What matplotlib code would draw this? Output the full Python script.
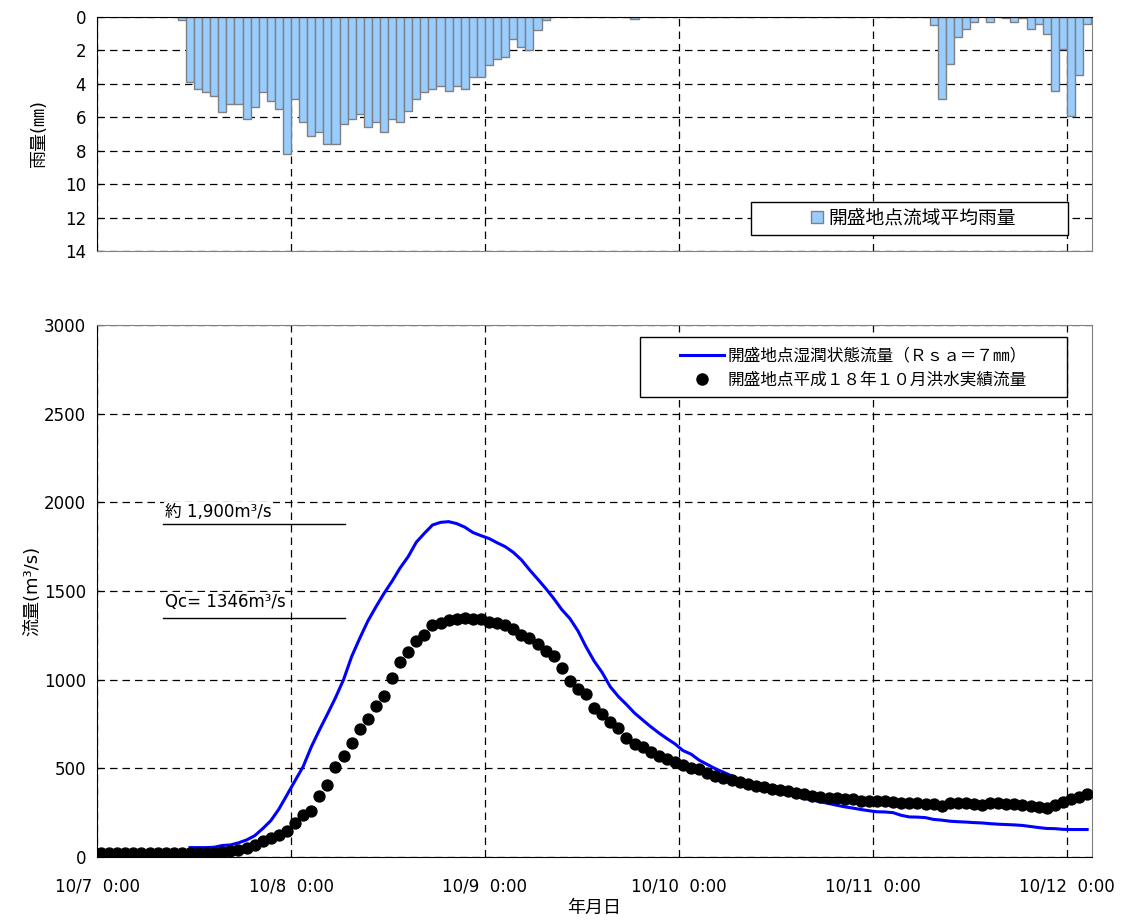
import numpy as np
import matplotlib
matplotlib.use("Agg")
import matplotlib.pyplot as plt
from matplotlib.patches import Rectangle, Patch
from matplotlib.lines import Line2D

# latin/digits in DejaVu, japanese falls back to Noto CJK
plt.rcParams['font.family'] = ['DejaVu Sans', 'Noto Sans CJK JP']

# hourly data, index 0 = 10/7 0:00
rain_hours = [10, 11, 12, 13, 14, 15, 16, 17, 18, 19, 20, 21, 22, 23, 24, 25, 26, 27, 28, 29,
              30, 31, 32, 33, 34, 35, 36, 37, 38, 39, 40, 41, 42, 43, 44, 45, 46, 47, 48, 49,
              50, 51, 52, 53, 54, 55, 66, 103, 104, 105, 106, 107, 108, 110, 112, 113, 114,
              115, 116, 117, 118, 119, 120, 121, 122]
rain_mm = [0.2, 3.9, 4.3, 4.5, 4.7, 5.7, 5.2, 5.2, 6.1, 5.4, 4.5, 5.0, 5.5, 8.2, 4.9, 6.3,
           7.1, 6.9, 7.6, 7.6, 6.4, 6.1, 5.8, 6.6, 6.3, 6.9, 6.1, 6.3, 5.6, 4.9, 4.5, 4.3,
           4.1, 4.4, 4.1, 4.3, 3.6, 3.6, 2.9, 2.5, 2.4, 1.3, 1.8, 2.0, 0.8, 0.2, 0.1, 0.5,
           4.9, 2.8, 1.2, 0.7, 0.3, 0.3, 0.05, 0.3, 0.05, 0.7, 0.4, 1.0, 4.4, 1.9, 5.9, 3.5, 0.4]

obs_flow = [20, 20, 20, 20, 20, 20, 20, 20, 20, 20,
            20, 20, 20, 22, 24, 28, 35, 42, 52, 70,
            90, 106, 124, 147, 190, 238, 261, 346, 406, 506,
            570, 645, 720, 778, 853, 910, 1010, 1100, 1158, 1218,
            1252, 1308, 1318, 1337, 1340, 1346, 1340, 1343, 1327, 1318,
            1308, 1284, 1252, 1237, 1201, 1163, 1134, 1066, 994, 946,
            917, 839, 805, 760, 729, 669, 637, 618, 594, 570,
            553, 538, 517, 504, 495, 472, 457, 447, 434, 421,
            412, 400, 393, 385, 378, 370, 363, 354, 346, 340,
            334, 330, 327, 325, 317, 314, 314, 315, 308, 306,
            302, 302, 300, 299, 289, 302, 302, 302, 297, 293,
            302, 302, 297, 299, 293, 288, 280, 274, 293, 311,
            325, 338, 355]

calc_start = 11
calc_flow = [53, 53, 53, 55, 65, 68, 80, 96, 120,
             160, 205, 270, 350, 430, 510, 620, 715, 805, 898,
             1000, 1130, 1233, 1330, 1410, 1486, 1555, 1630, 1694, 1775,
             1825, 1872, 1887, 1891, 1880, 1860, 1830, 1812, 1796, 1772,
             1750, 1718, 1676, 1620, 1568, 1515, 1458, 1395, 1345, 1275,
             1185, 1105, 1040, 960, 905, 860, 812, 773, 735, 700,
             668, 638, 600, 580, 546, 522, 498, 478, 458, 436,
             420, 402, 390, 375, 363, 352, 340, 330, 322, 311,
             302, 292, 283, 276, 268, 261, 255, 254, 250, 235,
             226, 225, 222, 212, 208, 202, 199, 197, 194, 192,
             188, 185, 183, 181, 178, 172, 166, 161, 160, 156,
             155, 155, 155]

day_ticks = [0, 24, 48, 72, 96, 120]
day_labels = ['10/7  0:00', '10/8  0:00', '10/9  0:00', '10/10  0:00', '10/11  0:00', '10/12  0:00']

x_max = 123.1
grid_kw = dict(color='black', linestyle=(0, (6, 4)), linewidth=0.9)

fig = plt.figure(figsize=(11.23, 9.24), dpi=100)
ax1 = fig.add_axes([0.0864, 0.7284, 0.886, 0.2532])
ax2 = fig.add_axes([0.0864, 0.0725, 0.886, 0.5758])

# ---- rainfall ----
ax1.bar(np.array(rain_hours) + 0.5, rain_mm, width=1.0, color='#99CCFF',
        edgecolor='#808080', linewidth=1.0, zorder=2)
ax1.set_xlim(0, x_max)
ax1.set_ylim(14, 0)
ax1.set_yticks(range(0, 15, 2))
ax1.set_xticks(day_ticks)
ax1.set_xticklabels([])
ax1.set_axisbelow(True)
ax1.grid(True, **grid_kw)
ax1.tick_params(axis='y', direction='in', length=4, labelsize=12, pad=8)
ax1.tick_params(axis='x', length=0)
ax1.set_ylabel('雨量(㎜)', fontsize=13, labelpad=12)
for s in ['left', 'top']:
    ax1.spines[s].set_color('black')
for s in ['right', 'bottom']:
    ax1.spines[s].set_color('#808080')

ax1.add_patch(Rectangle((0.657, 0.068), 0.319, 0.141, transform=ax1.transAxes,
                        facecolor='white', edgecolor='black', linewidth=1.0, zorder=4))
leg1 = ax1.legend(handles=[Patch(facecolor='#99CCFF', edgecolor='#808080', label='開盛地点流域平均雨量')],
                  loc='center left', bbox_to_anchor=(0.708, 0.141), frameon=False,
                  handlelength=0.65, handleheight=0.65, handletextpad=0.3, borderpad=0,
                  fontsize=13.5)
leg1.set_zorder(5)

# ---- discharge ----
calc_x = np.arange(calc_start, calc_start + len(calc_flow)) + 0.5
obs_x = np.arange(len(obs_flow)) + 0.5
ax2.plot(calc_x, calc_flow, color='#0000FF', linewidth=2.2, zorder=3)
ax2.scatter(obs_x, obs_flow, s=62, color='black', zorder=4)
ax2.set_xlim(0, x_max)
ax2.set_ylim(0, 3000)
ax2.set_yticks(range(0, 3001, 500))
ax2.set_xticks(day_ticks)
ax2.set_xticklabels(day_labels)
ax2.set_axisbelow(True)
ax2.grid(True, **grid_kw)
ax2.tick_params(axis='y', direction='in', length=4, labelsize=12, pad=8)
ax2.tick_params(axis='x', length=0, labelsize=12, pad=15)
ax2.set_ylabel('流量(m³/s)', fontsize=13, labelpad=2)
ax2.set_xlabel('年月日', fontsize=13, labelpad=2)
for s in ['left', 'bottom']:
    ax2.spines[s].set_color('black')
for s in ['right', 'top']:
    ax2.spines[s].set_color('#808080')

# annotations
ax2.plot([8.2, 30.7], [1880, 1880], color='black', linewidth=1.0, zorder=3)
ax2.plot([8.2, 30.7], [1346, 1346], color='black', linewidth=1.0, zorder=3)
ax2.text(8.4, 1915, '約 1,900m³/s', fontsize=12, va='baseline', zorder=3,
         bbox=dict(facecolor='white', edgecolor='none', pad=1))
ax2.text(8.4, 1410, 'Qc= 1346m³/s', fontsize=12, va='baseline', zorder=3,
         bbox=dict(facecolor='white', edgecolor='none', pad=1))

ax2.add_patch(Rectangle((0.546, 0.865), 0.429, 0.113, transform=ax2.transAxes,
                        facecolor='white', edgecolor='black', linewidth=1.0, zorder=5))
handles = [Line2D([], [], color='#0000FF', linewidth=2.2, label='開盛地点湿潤状態流量（Ｒｓａ＝７㎜）'),
           Line2D([], [], color='black', marker='o', markersize=8, linestyle='none',
                  label='開盛地点平成１８年１０月洪水実績流量')]
leg2 = ax2.legend(handles=handles, loc='upper left', bbox_to_anchor=(0.578, 0.975),
                  frameon=False, handlelength=2.6, handletextpad=0.2, borderpad=0,
                  labelspacing=0.35, fontsize=12)
leg2.set_zorder(6)

fig.savefig('out.png', dpi=100)
